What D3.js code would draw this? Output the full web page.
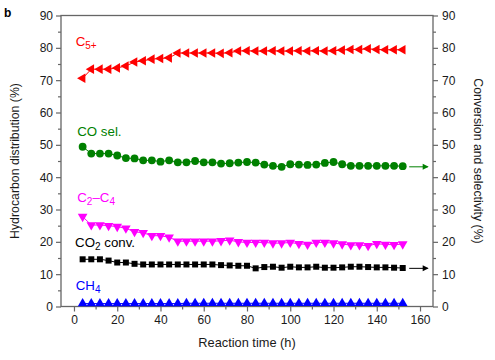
<!DOCTYPE html>
<html><head><meta charset="utf-8">
<script src="https://cdn.jsdelivr.net/npm/d3@7"></script>
<style>
body{margin:0;background:#fff;}
svg{font-family:"Liberation Sans",Arial,Helvetica,sans-serif;}
</style></head>
<body><svg id="chart" width="495" height="360"></svg>
<script>
const times = d3.range(4, 153, 4);
const c5plus = [70.6,73.4,73.4,73.4,73.8,74.4,75.6,76.0,76.5,76.7,76.9,78.4,78.4,78.4,78.4,78.4,78.3,78.5,79.0,79.1,
                79.0,79.0,79.1,79.0,79.0,79.1,79.0,79.1,79.0,79.1,79.3,79.5,79.5,79.7,79.5,79.4,79.4,79.4];
const coSel = [49.4,47.3,47.3,47.3,46.7,45.9,45.8,45.2,45.2,44.8,45.2,44.6,44.6,45.0,44.6,44.6,44.2,44.3,44.5,44.7,
               44.5,43.9,43.5,43.2,44.0,43.9,43.8,43.9,44.4,44.7,44.0,43.5,43.5,43.5,43.5,43.5,43.5,43.4];
const c2c4 = [27.8,25.2,25.2,25.0,24.7,24.2,23.1,22.8,21.9,21.9,21.4,20.2,20.2,20.2,20.2,20.2,20.3,20.5,20.0,19.8,
              19.8,19.8,19.6,19.6,19.8,19.4,19.2,19.8,19.8,19.6,19.3,19.0,19.0,18.8,19.4,19.2,19.1,19.3];
const co2Conv = [14.6,14.6,14.6,14.2,13.6,13.6,13.2,13.0,13.0,13.0,13.0,13.0,13.0,13.0,13.0,13.0,12.8,12.7,12.6,12.6,
                 11.8,12.2,12.3,12.0,12.3,12.1,12.1,12.3,12.0,12.0,12.1,12.3,12.3,12.2,12.1,12.1,12.0,11.9];
const ch4 = [0.9,0.9,0.9,0.9,0.9,0.9,0.9,0.9,0.9,0.9,0.9,0.9,1.0,1.0,1.0,1.0,1.0,1.0,1.0,1.0,
             1.0,1.0,1.0,1.0,1.0,1.0,1.0,1.0,1.0,1.0,1.0,1.0,1.0,1.0,1.0,1.0,1.0,1.0];
const xTicks = [0,20,40,60,80,100,120,140,160];
const yTicks = [0,10,20,30,40,50,60,70,80,90];

const svg = d3.select("#chart");
const L=61, R=433, T=15.5, B=306.5;
const x = d3.scaleLinear().domain([-6,166]).range([L,R]);
const y = d3.scaleLinear().domain([0,90]).range([B,T]);
const axisColor = "#666";

// frame
svg.append("rect").attr("x",L).attr("y",T).attr("width",R-L).attr("height",B-T)
  .attr("fill","none").attr("stroke",axisColor).attr("stroke-width",1.3);

function styleAxis(g){
  g.select(".domain").remove();
  g.selectAll("line").attr("stroke",axisColor).attr("stroke-width",1.2);
  g.selectAll("text").attr("fill","#1a1a1a").style("font-size","12px");
}
const minorY = d3.range(5,90,10);
const minorX = d3.range(10,170,20);
// left
svg.append("g").attr("transform",`translate(${L},0)`)
  .call(d3.axisLeft(y).tickValues(yTicks).tickSize(5).tickPadding(3)).call(styleAxis);
svg.append("g").attr("transform",`translate(${L},0)`)
  .call(d3.axisLeft(y).tickValues(minorY).tickSize(3).tickFormat("")).call(styleAxis);
// right
svg.append("g").attr("transform",`translate(${R},0)`)
  .call(d3.axisRight(y).tickValues(yTicks).tickSize(5).tickPadding(4)).call(styleAxis);
svg.append("g").attr("transform",`translate(${R},0)`)
  .call(d3.axisRight(y).tickValues(minorY).tickSize(3).tickFormat("")).call(styleAxis);
// bottom
svg.append("g").attr("transform",`translate(0,${B})`)
  .call(d3.axisBottom(x).tickValues(xTicks).tickSize(5).tickPadding(4)).call(styleAxis);
svg.append("g").attr("transform",`translate(0,${B})`)
  .call(d3.axisBottom(x).tickValues(minorX).tickSize(3).tickFormat("")).call(styleAxis);

// titles
svg.append("text").attr("transform",`translate(19,${(T+B)/2}) rotate(-90)`)
  .attr("text-anchor","middle").style("font-size","12.3px").attr("fill","#1a1a1a")
  .text("Hydrocarbon distribution (%)");
svg.append("text").attr("transform",`translate(474,${(T+B)/2}) rotate(90)`)
  .attr("text-anchor","middle").style("font-size","12.3px").attr("fill","#1a1a1a")
  .text("Conversion and selectivity (%)");
svg.append("text").attr("x",(L+R)/2).attr("y",347).attr("text-anchor","middle")
  .style("font-size","12.8px").attr("fill","#1a1a1a").text("Reaction time (h)");
svg.append("text").attr("x",4).attr("y",17).style("font-size","12px").style("font-weight","bold").text("b");

// series
const series = [
  {name:"c5", vals:c5plus, color:"#ff0000", sym:d3.symbolTriangle, rot:-90, size:40},
  {name:"co", vals:coSel, color:"#008000", sym:d3.symbolCircle, rot:0, size:48},
  {name:"c24", vals:c2c4, color:"#ff00ff", sym:d3.symbolTriangle, rot:180, size:40},
  {name:"co2", vals:co2Conv, color:"#000000", sym:d3.symbolSquare, rot:0, size:36},
  {name:"ch4", vals:ch4, color:"#0000ff", sym:d3.symbolTriangle, rot:0, size:40}
];
const line = d3.line().x(d=>x(d[0])).y(d=>y(d[1]));
series.forEach(s=>{
  const pts = times.map((t,i)=>[t,s.vals[i]]);
  svg.append("path").datum(pts).attr("d",line).attr("fill","none")
    .attr("stroke",s.color).attr("stroke-width",1);
  svg.append("g").selectAll("path").data(pts).join("path")
    .attr("transform",d=>`translate(${x(d[0])},${y(d[1])}) rotate(${s.rot})`)
    .attr("d",d3.symbol().type(s.sym).size(s.size)).attr("fill",s.color);
});

// labels
function lab(t,v,color,parts){
  const tx = svg.append("text").attr("x",x(t)).attr("y",y(v)).attr("fill",color).style("font-size","13.3px");
  parts.forEach(p=>{
    const ts = tx.append("tspan").text(p[0]);
    if(p[1]){ ts.attr("dy",p[1]).style("font-size","10px"); }
    if(p[2]){ ts.attr("dy",p[2]); }
  });
}
lab(0.8,80.5,"#ff0000",[["C"],["5+",3]]);
lab(1.5,52.8,"#008000",[["CO sel."]]);
lab(1.5,32.4,"#ff00ff",[["C"],["2",3],["–C",0,-3],["4",3]]);
lab(0.5,18.5,"#000000",[["CO"],["2",3],[" conv.",0,-3]]);
lab(0.8,5.2,"#0000ff",[["CH"],["4",3]]);

// arrows
function arrow(v,color){
  const x1=x(155), x2=x(164), yy=y(v);
  svg.append("line").attr("x1",x1).attr("x2",x2-1).attr("y1",yy).attr("y2",yy)
    .attr("stroke",color).attr("stroke-width",1);
  svg.append("path").attr("d",`M${x2},${yy} L${x2-6},${yy-3} L${x2-6},${yy+3} Z`).attr("fill",color);
}
arrow(43.2,"#008000");
arrow(11.8,"#000000");
</script></body></html>
